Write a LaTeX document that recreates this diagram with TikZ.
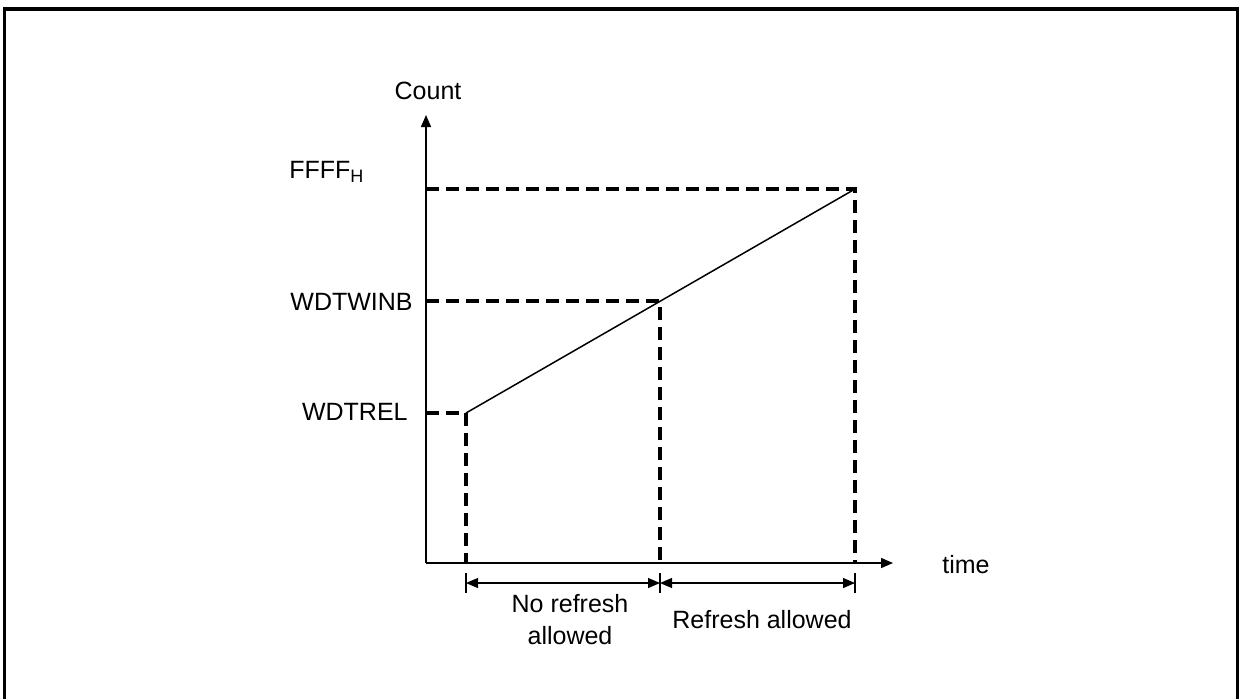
\documentclass[tikz,border=0pt]{standalone}
\usepackage{fontspec}
\setmainfont{Liberation Sans}
\usetikzlibrary{arrows.meta}

\begin{document}
\begin{tikzpicture}[x=0.5pt, y=-0.5pt, axis/.style={-{Triangle[length=6pt,width=5pt]}, line width=0.75pt}, guide/.style={line width=2pt, dash pattern=on 6.5pt off 3.5pt}, dim/.style={{Triangle[length=6pt,width=5pt]}-{Triangle[length=6pt,width=5pt]}, line width=0.6pt}, tick/.style={line width=0.6pt}, lbl/.style={font=\fontsize{12.5}{15}\selectfont, inner sep=0pt}]

\useasboundingbox (0,0) rectangle (1240,698);
\draw[line width=1.6pt] (4.5,700) -- (4.5,9) -- (1237.5,9) -- (1237.5,700);

% axes
\coordinate (O) at (426,563); \coordinate (Ytop) at (426,115); \coordinate (Xend) at (893,563);
\draw[axis] (O)--(Ytop); \draw[axis] (O)--(Xend);
\node[lbl] (count) at (428,91) {Count}; \node[lbl] (time) at (966,565) {time};

% levels
\coordinate (Rel) at (426,413); \coordinate (Win) at (426,301); \coordinate (Top) at (426,189);
\coordinate (P1) at (466,413); \coordinate (P2) at (660,301); \coordinate (P3) at (855,189);
\coordinate (B1) at (466,563); \coordinate (B2) at (660,563); \coordinate (B3) at (855,563);
\node[lbl, anchor=east] (rel) at (408,412) {WDTREL}; \node[lbl, anchor=east] (winb) at (413,302) {WDTWINB};
\node[lbl, anchor=west] (ffff) at (289,172) {FFFF\textsubscript{\fontsize{9}{9}\selectfont H}};
\draw[guide] (Rel)--(P1)--(B1); \draw[guide] (Win)--(P2)--(B2); \draw[guide] (Top)--(P3)--(B3);
\draw[line width=0.75pt] (P1)--(P3);

% windows
\coordinate (T1) at (466,583); \coordinate (T2) at (660,583); \coordinate (T3) at (855,583);
\draw[tick] (466,573)--(466,593); \draw[tick] (660,573)--(660,593); \draw[tick] (855,573)--(855,593);
\draw[dim] (T1)--(T2); \draw[dim] (T2)--(T3);
\node[lbl, align=center] (norefresh) at (570,620) {No refresh\\[1pt]allowed};
\node[lbl] (refresh) at (762,620) {Refresh allowed};
\end{tikzpicture}
\end{document}
